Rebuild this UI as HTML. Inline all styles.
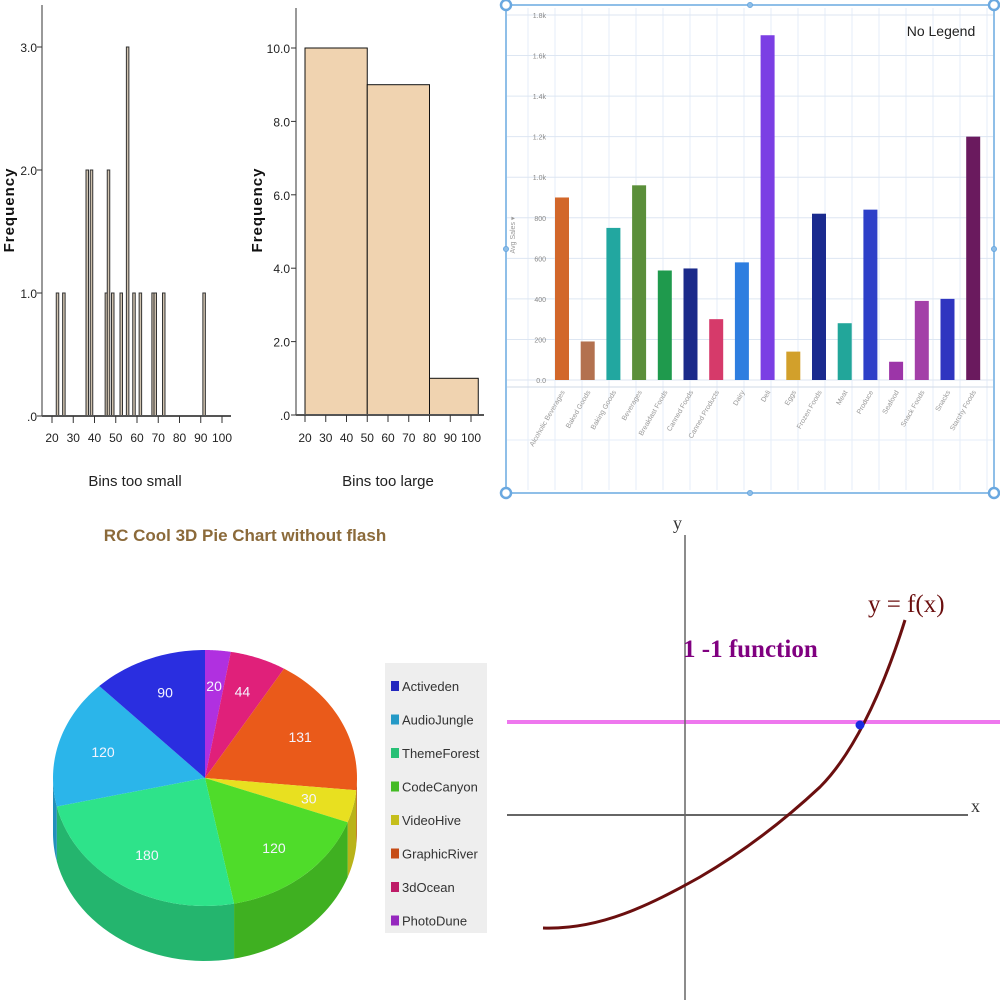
<!DOCTYPE html>
<html><head><meta charset="utf-8"><style>
html,body{margin:0;padding:0;background:#fff;}
svg{display:block;font-family:"Liberation Sans",sans-serif;}
</style></head><body>
<svg id="s" width="1000" height="1000" viewBox="0 0 1000 1000">
<g id="h1"></g>
<g id="h2"></g>
<g id="bc"></g>
<g id="pie"></g>
<g id="fn"></g>
</svg>
<script>
// ---- Histogram 1 data ----
const h1Bins=[22,25,36,38,45,46,48,52,55,58,61,67,68,72,91];
const h1Counts=[1,1,2,2,1,2,1,1,3,1,1,1,1,1,1];
const h1YTicks=[0,1,2,3];
const h1YLabels=[".0","1.0","2.0","3.0"];
const h1XTicks=[20,30,40,50,60,70,80,90,100];
// ---- Histogram 2 data ----
const h2Edges=[20,50,80,103.5];
const h2Counts=[10,9,1];
const h2YTicks=[0,2,4,6,8,10];
const h2YLabels=[".0","2.0","4.0","6.0","8.0","10.0"];
const h2XTicks=[20,30,40,50,60,70,80,90,100];
// ---- Bar chart data ----
const bcCats=["Alcoholic Beverages","Baked Goods","Baking Goods","Beverages","Breakfast Foods","Canned Foods","Canned Products","Dairy","Deli","Eggs","Frozen Foods","Meat","Produce","Seafood","Snack Foods","Snacks","Starchy Foods"];
const bcVals=[900,190,750,960,540,550,300,580,1700,140,820,280,840,90,390,400,1200];
const bcColors=["#d2672a","#b3714f","#22a7a0","#5b8f3a","#1f9a4d","#1b2a8a","#d63a6a","#2e7ee0","#7b3fe4","#d2a02b","#1a2a8e","#22a69a","#2d3fc8","#9c35a8","#a340a8","#2f35c0","#6a1a5e"];
const bcTicks=[0,200,400,600,800,1000,1200,1400,1600,1800];
const bcTickLabels=["0.0","200","400","600","800","1.0k","1.2k","1.4k","1.6k","1.8k"];
// ---- Pie data ----
const pieNames=["PhotoDune","3dOcean","GraphicRiver","VideoHive","CodeCanyon","ThemeForest","AudioJungle","Activeden"];
const pieVals=[20,44,131,30,120,180,120,90];
const pieColors=["#b030e0","#e0207a","#ea5a1a","#e8e020","#4fdc2a","#2ee38a","#2bb5ea","#2a2ee0"];
const legendOrder=["Activeden","AudioJungle","ThemeForest","CodeCanyon","VideoHive","GraphicRiver","3dOcean","PhotoDune"];

const NS="http://www.w3.org/2000/svg";
function mk(p,t,a,txt){const e=document.createElementNS(NS,t);for(const k in a)e.setAttribute(k,a[k]);if(txt!==undefined)e.textContent=txt;p.appendChild(e);return e;}

// ===== Histogram 1 =====
(function(){
const g=document.getElementById('h1');
const x=v=>52+(v-20)*2.125, y=v=>416-v*123;
h1Bins.forEach((b,i)=>{
 const r=mk(g,'rect',{x:x(b),y:y(h1Counts[i]),width:2.5,height:h1Counts[i]*123,fill:'#cfc2ae',stroke:'#333','stroke-width':1});
 
 
});
mk(g,'line',{x1:42,y1:5,x2:42,y2:416,stroke:'#333','stroke-width':1});
mk(g,'line',{x1:42,y1:416,x2:231,y2:416,stroke:'#555','stroke-width':2});
h1YTicks.forEach((t,i)=>{mk(g,'line',{x1:37,y1:y(t),x2:42,y2:y(t),stroke:'#333'});
 const tl=mk(g,'text',{x:37,y:y(t)+5,'font-size':12,'text-anchor':'end',fill:'#222'},h1YLabels[i]);
 });
h1XTicks.forEach(t=>{mk(g,'line',{x1:x(t),y1:416,x2:x(t),y2:423,stroke:'#333'});
 const tl=mk(g,'text',{x:x(t),y:442,'font-size':12,'text-anchor':'middle',fill:'#222'},t);
 });
const xt=mk(g,'text',{x:135,y:486,'font-size':15,'text-anchor':'middle',fill:'#222'},'Bins too small');

const yt=mk(g,'text',{x:14,y:210,'font-size':15,'font-weight':'bold','text-anchor':'middle',fill:'#111','letter-spacing':1,transform:'rotate(-90 14 210)'},'Frequency');

})();

// ===== Histogram 2 =====
(function(){
const g=document.getElementById('h2');
const x=v=>305+(v-20)*2.075, y=v=>415-v*36.7;
h2Counts.forEach((c,i)=>{
 const r=mk(g,'rect',{x:x(h2Edges[i]),y:y(c),width:x(h2Edges[i+1])-x(h2Edges[i]),height:c*36.7,fill:'#f0d3b0',stroke:'#111','stroke-width':1});
 
 
});
mk(g,'line',{x1:296,y1:8,x2:296,y2:415,stroke:'#333'});
mk(g,'line',{x1:296,y1:415,x2:484,y2:415,stroke:'#555','stroke-width':2});
h2YTicks.forEach((t,i)=>{mk(g,'line',{x1:291,y1:y(t),x2:296,y2:y(t),stroke:'#333'});
 const tl=mk(g,'text',{x:290,y:y(t)+5,'font-size':12,'text-anchor':'end',fill:'#222'},h2YLabels[i]);
 });
h2XTicks.forEach(t=>{mk(g,'line',{x1:x(t),y1:415,x2:x(t),y2:422,stroke:'#333'});
 const tl=mk(g,'text',{x:x(t),y:442,'font-size':12,'text-anchor':'middle',fill:'#222'},t);
 });
const xt=mk(g,'text',{x:388,y:486,'font-size':15,'text-anchor':'middle',fill:'#222'},'Bins too large');

const yt=mk(g,'text',{x:262,y:210,'font-size':15,'font-weight':'bold','text-anchor':'middle',fill:'#111','letter-spacing':1,transform:'rotate(-90 262 210)'},'Frequency');

})();

// ===== Bar chart =====
(function(){
const g=document.getElementById('bc');
const y=v=>380-v*0.2028, x=i=>562+i*25.7;
for(let i=0;i<18;i++){mk(g,'line',{x1:528+i*27,y1:8,x2:528+i*27,y2:490,stroke:'#e6eef8','stroke-width':1});}
mk(g,'line',{x1:507,y1:440,x2:993,y2:440,stroke:'#e6eef8'});
bcTicks.forEach((t,i)=>{
 mk(g,'line',{x1:507,y1:y(t),x2:993,y2:y(t),stroke:'#dde6f2'});
 const tl=mk(g,'text',{x:546,y:y(t)+3,'font-size':7,'text-anchor':'end',fill:'#888'},bcTickLabels[i]);
 
});
mk(g,'line',{x1:507,y1:387,x2:993,y2:387,stroke:'#cfd8e6'});
bcVals.forEach((v,i)=>{
 const r=mk(g,'rect',{x:x(i)-7,y:y(v),width:14,height:380-y(v),fill:bcColors[i]});
 
 
 const tx=x(i)+3, ty=392;
 const tl=mk(g,'text',{x:tx,y:ty,'font-size':7,'text-anchor':'end',fill:'#999',transform:`rotate(-60 ${tx} ${ty})`},bcCats[i]);
 
});
const yt=mk(g,'text',{x:515,y:235,'font-size':7,'text-anchor':'middle',fill:'#999',transform:'rotate(-90 515 235)'},'Avg Sales ▾');

const nl=mk(g,'text',{x:941,y:36,'font-size':14,'text-anchor':'middle',fill:'#222'},'No Legend');

const fr=mk(g,'rect',{x:506,y:5,width:488,height:488,fill:'none',stroke:'#8fbfe8','stroke-width':2});

[[506,5],[750,5],[994,5],[506,249],[994,249],[506,493],[750,493],[994,493]].forEach(p=>{
 const big=(p[0]!==750&&p[1]!==249);
 const c=mk(g,'circle',{cx:p[0],cy:p[1],r:big?5:2.5,fill:big?'#fff':'#8fbfe8',stroke:'#6aa8e0','stroke-width':big?2.5:1});
 
});
})();

// ===== Pie =====
(function(){
const g=document.getElementById('pie');
const t=mk(g,'text',{x:245,y:541,'font-size':17,'font-weight':'bold','text-anchor':'middle',fill:'#8b6a3a'},'RC Cool 3D Pie Chart without flash');

const cx=205,cy=778,rx=152,ry=128,d=55;
const total=pieVals.reduce((a,b)=>a+b,0);
function dark(h,f){const n=parseInt(h.slice(1),16);const r=(n>>16)*f,gg=((n>>8)&255)*f,b=(n&255)*f;return `rgb(${r|0},${gg|0},${b|0})`;}
const P=a=>[cx+rx*Math.cos(a),cy+ry*Math.sin(a)];
let a=-Math.PI/2; const angs=[];
pieVals.forEach(v=>{const b=a+v/total*2*Math.PI;angs.push([a,b]);a=b;});
angs.forEach(([a0,a1],i)=>{
 let s=Math.max(a0,0),e=Math.min(a1,Math.PI);
 const segs=[];
 if(e>s)segs.push([s,e]);
 const s2=Math.max(a0,2*Math.PI),e2=Math.min(a1,3*Math.PI); if(e2>s2)segs.push([s2,e2]);
 segs.forEach(([p,q])=>{
  let dstr=`M${P(p)[0]},${P(p)[1]}`;
  for(let k=1;k<=30;k++){const t=p+(q-p)*k/30;const pt=P(t);dstr+=`L${pt[0]},${pt[1]}`;}
  for(let k=30;k>=0;k--){const t=p+(q-p)*k/30;const pt=P(t);dstr+=`L${pt[0]},${pt[1]+d}`;}
  const w=mk(g,'path',{d:dstr+'Z',fill:dark(pieColors[i],0.8)});
  
  
 });
});
angs.forEach(([a0,a1],i)=>{
 let dstr=`M${cx},${cy}`;
 for(let k=0;k<=40;k++){const t=a0+(a1-a0)*k/40;const pt=P(t);dstr+=`L${pt[0]},${pt[1]}`;}
 const s=mk(g,'path',{d:dstr+'Z',fill:pieColors[i]});
 
 
 const m=(a0+a1)/2;
 const lx=cx+rx*0.7*Math.cos(m), ly=cy+ry*0.72*Math.sin(m)+5;
 const l=mk(g,'text',{x:lx,y:ly,'font-size':14,'text-anchor':'middle',fill:'#f4f4ff'},pieVals[i]);
 
});
const lg=mk(g,'rect',{x:385,y:663,width:102,height:270,fill:'#eeeeee'});

legendOrder.forEach((n,k)=>{
 const i=pieNames.indexOf(n), yy=686+k*33.5;
 const sq=mk(g,'rect',{x:391,y:yy-5,width:8,height:10,fill:dark(pieColors[i],0.85)});
 
 const tx=mk(g,'text',{x:402,y:yy+5,'font-size':13,fill:'#333'},n);
 
});
})();

// ===== Function graph =====
(function(){
const g=document.getElementById('fn');
const hl=mk(g,'line',{x1:507,y1:722,x2:1000,y2:722,stroke:'#ee77ee','stroke-width':4});

const xa=mk(g,'line',{x1:507,y1:815,x2:968,y2:815,stroke:'#666','stroke-width':2});

const ya=mk(g,'line',{x1:685,y1:535,x2:685,y2:1000,stroke:'#666','stroke-width':1.5});

const xl=mk(g,'text',{x:971,y:812,'font-size':18,fill:'#333','font-family':'Liberation Serif,serif'},'x');

const yl=mk(g,'text',{x:673,y:529,'font-size':18,fill:'#333','font-family':'Liberation Serif,serif'},'y');

const c=mk(g,'path',{d:'M543,928 C600,930 650,905 700,877 C750,848 790,815 820,787 C850,757 880,700 905,620',fill:'none',stroke:'#6b0f0f','stroke-width':3});

const dt=mk(g,'circle',{cx:860,cy:725,r:4.5,fill:'#1a2ae0'});

const fl=mk(g,'text',{x:868,y:612,'font-size':25,fill:'#6b0f0f','font-family':'Liberation Serif,serif'},'y = f(x)');

const tl=mk(g,'text',{x:683,y:657,'font-size':25,'font-weight':'bold',fill:'#800080','font-family':'Liberation Serif,serif'},'1 -1 function');

})();
</script>
</body></html>
